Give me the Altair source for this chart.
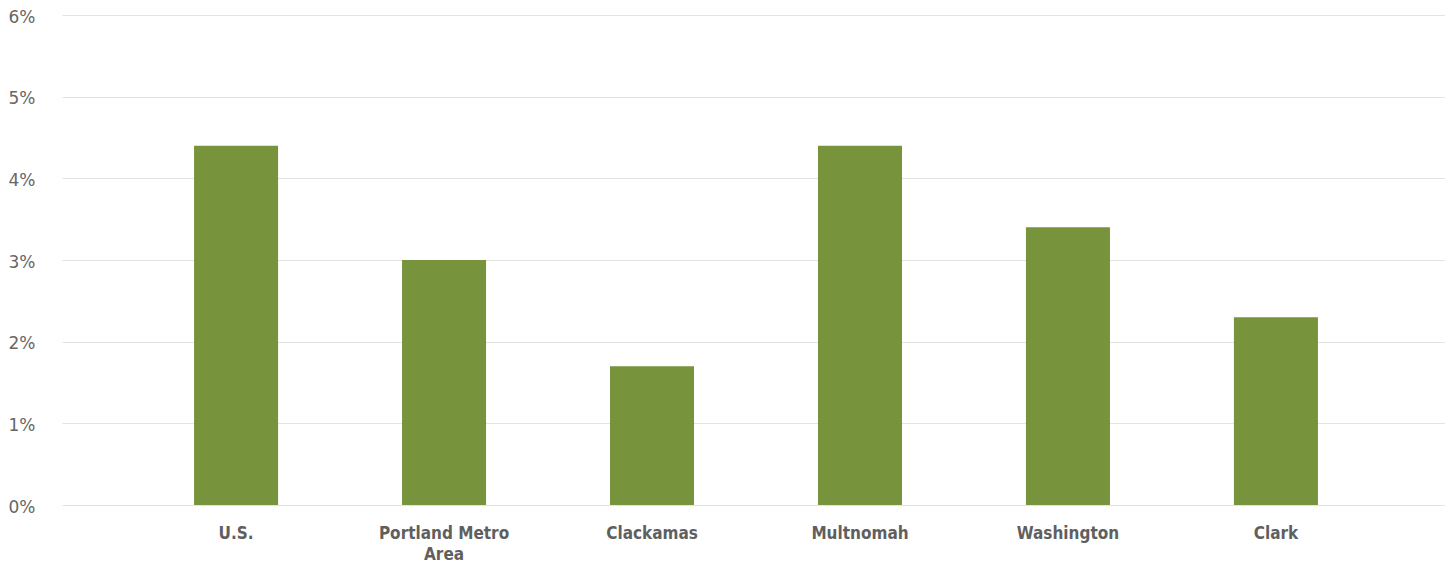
import altair as alt
import pandas as pd

categories = ["U.S.", "Portland Metro Area", "Clackamas", "Multnomah", "Washington", "Clark"]
values = [0.044, 0.030, 0.017, 0.044, 0.034, 0.023]
y_ticks = [0, 0.01, 0.02, 0.03, 0.04, 0.05, 0.06]

df = pd.DataFrame({"region": categories, "rate": values})

bars = alt.Chart(df).mark_bar(color="#77933C").encode(
    x=alt.X("region:N", sort=categories, title=None,
            scale=alt.Scale(paddingInner=0.596, paddingOuter=0.635, range=[0, 1388]),
            axis=alt.Axis(labelAngle=0,
                          labelFont="Liberation Sans Narrow, DejaVu Sans Condensed, Roboto, sans-serif",
                          labelFontWeight="bold",
                          labelFontSize=17, labelColor="#5f5f5f", labelPadding=20,
                          labelLineHeight=21, domain=False, ticks=False, grid=False,
                          labelExpr="datum.label == 'Portland Metro Area' ? ['Portland Metro', 'Area'] : datum.label")),
    y=alt.Y("rate:Q", title=None,
            scale=alt.Scale(domain=[0, 0.06]),
            axis=alt.Axis(format=".0%", values=y_ticks,
                          labelFont="DejaVu Sans", labelFontSize=17, labelColor="#666666",
                          labelAlign="left", labelPadding=54, labelOffset=2,
                          domain=False, ticks=False,
                          gridColor="#e3e3e3", gridWidth=1)),
)

chart = bars.properties(
    width=1383, height=490,
    autosize=alt.AutoSizeParams(type="none"),
    padding={"left": 54, "top": 7, "right": 0, "bottom": 60},
).configure_view(stroke=None)

chart.save("out.html", embed_options={"renderer": "svg", "actions": False})
